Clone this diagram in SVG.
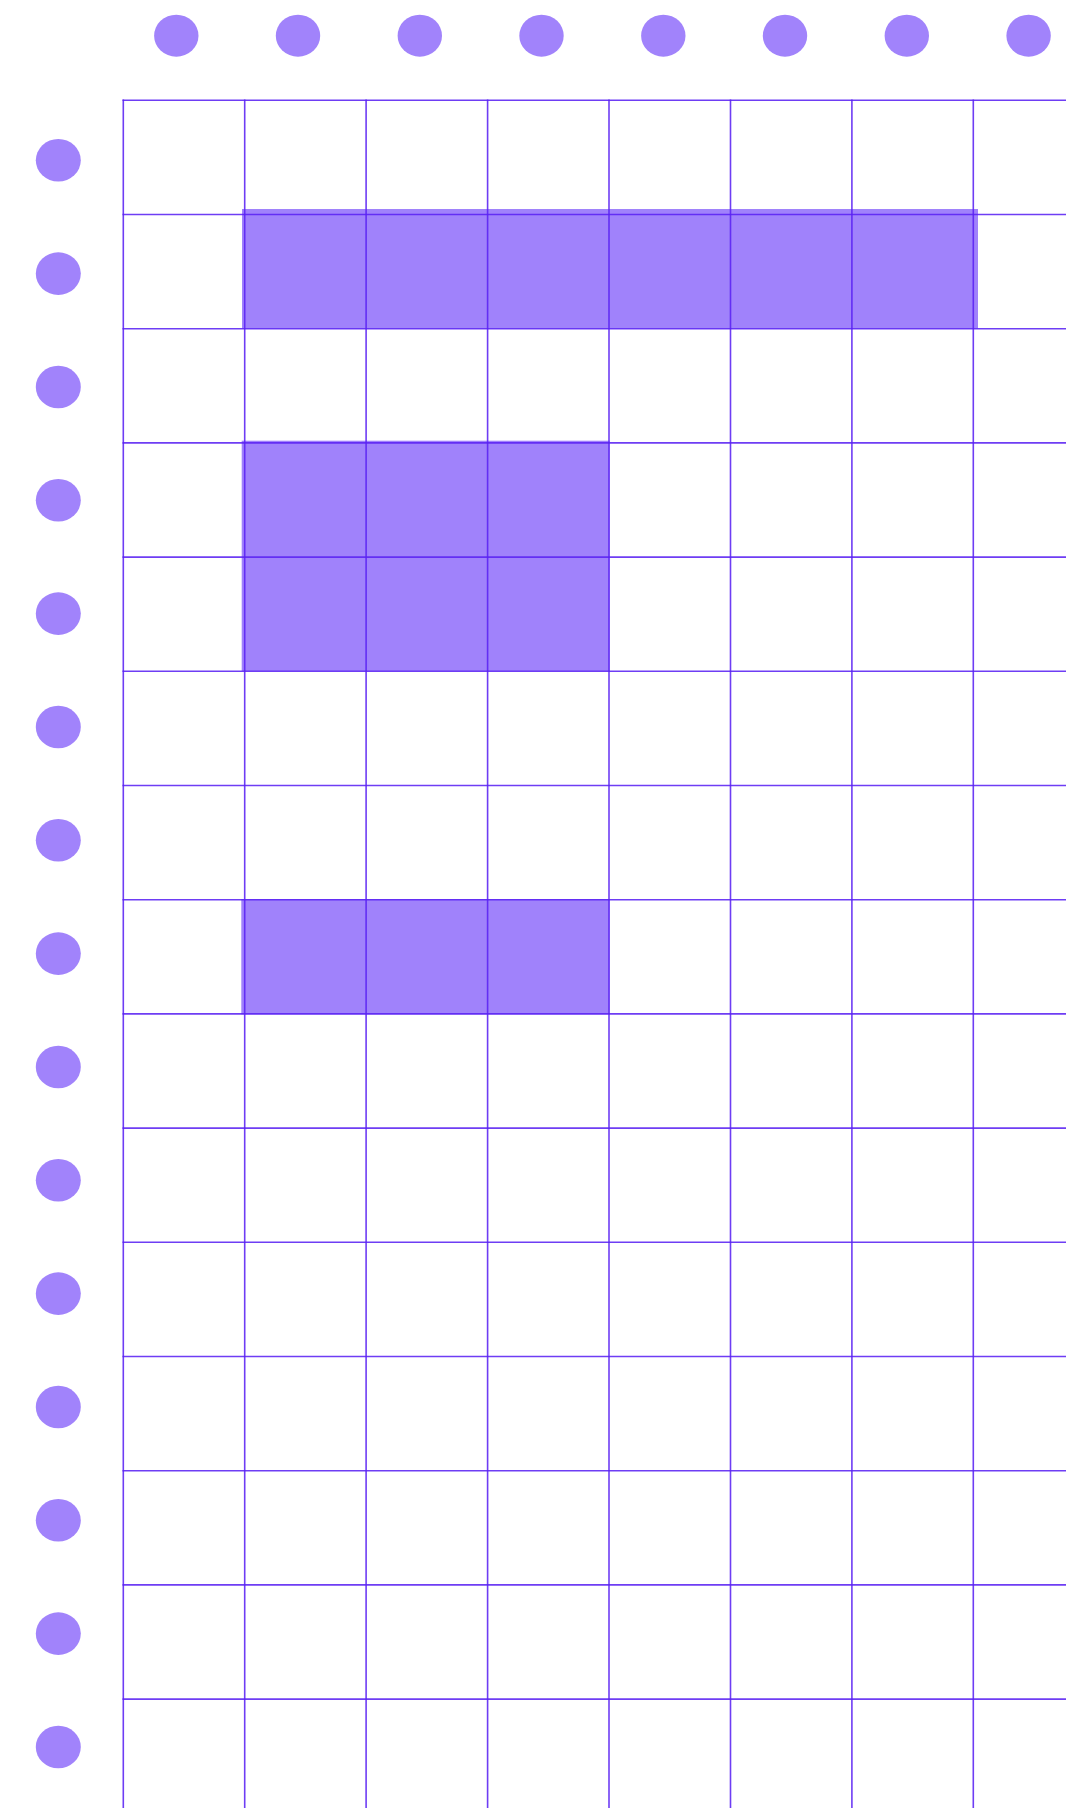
<svg xmlns="http://www.w3.org/2000/svg" width="1066" height="1808" viewBox="0 0 1066 1808">
<style>
.dot{fill:#a183fb}
.fill{fill:#a082fb}
.grid line{stroke:#5a22f2;stroke-width:1.6;stroke-opacity:0.88}
</style>
<rect width="1066" height="1808" fill="#ffffff"/>
<g id="top-dots">
<ellipse class="dot" cx="176.3" cy="35.7" rx="22.2" ry="21"/>
<ellipse class="dot" cx="298" cy="35.7" rx="22.2" ry="21"/>
<ellipse class="dot" cx="419.8" cy="35.7" rx="22.2" ry="21"/>
<ellipse class="dot" cx="541.5" cy="35.7" rx="22.2" ry="21"/>
<ellipse class="dot" cx="663.3" cy="35.7" rx="22.2" ry="21"/>
<ellipse class="dot" cx="785" cy="35.7" rx="22.2" ry="21"/>
<ellipse class="dot" cx="906.8" cy="35.7" rx="22.2" ry="21"/>
<ellipse class="dot" cx="1028.6" cy="35.7" rx="22.2" ry="21"/>
</g>
<g id="left-dots">
<ellipse class="dot" cx="58.3" cy="160.3" rx="22.5" ry="21.3"/>
<ellipse class="dot" cx="58.3" cy="273.6" rx="22.5" ry="21.3"/>
<ellipse class="dot" cx="58.3" cy="387" rx="22.5" ry="21.3"/>
<ellipse class="dot" cx="58.3" cy="500.3" rx="22.5" ry="21.3"/>
<ellipse class="dot" cx="58.3" cy="613.6" rx="22.5" ry="21.3"/>
<ellipse class="dot" cx="58.3" cy="727" rx="22.5" ry="21.3"/>
<ellipse class="dot" cx="58.3" cy="840.3" rx="22.5" ry="21.3"/>
<ellipse class="dot" cx="58.3" cy="953.6" rx="22.5" ry="21.3"/>
<ellipse class="dot" cx="58.3" cy="1067" rx="22.5" ry="21.3"/>
<ellipse class="dot" cx="58.3" cy="1180.3" rx="22.5" ry="21.3"/>
<ellipse class="dot" cx="58.3" cy="1293.6" rx="22.5" ry="21.3"/>
<ellipse class="dot" cx="58.3" cy="1407" rx="22.5" ry="21.3"/>
<ellipse class="dot" cx="58.3" cy="1520.3" rx="22.5" ry="21.3"/>
<ellipse class="dot" cx="58.3" cy="1633.6" rx="22.5" ry="21.3"/>
<ellipse class="dot" cx="58.3" cy="1747" rx="22.5" ry="21.3"/>
</g>
<g id="filled-blocks">
<rect class="fill" x="242" y="209" width="736" height="119.5"/>
<rect class="fill" x="241.7" y="440.7" width="368" height="230.3"/>
<rect class="fill" x="241.3" y="899" width="368.4" height="115.3"/>
</g>
<g id="grid" class="grid">
<line x1="123.3" y1="99.5" x2="123.3" y2="1808"/>
<line x1="244.7" y1="99.5" x2="244.7" y2="1808"/>
<line x1="366.1" y1="99.5" x2="366.1" y2="1808"/>
<line x1="487.6" y1="99.5" x2="487.6" y2="1808"/>
<line x1="609" y1="99.5" x2="609" y2="1808"/>
<line x1="730.5" y1="99.5" x2="730.5" y2="1808"/>
<line x1="851.9" y1="99.5" x2="851.9" y2="1808"/>
<line x1="973.3" y1="99.5" x2="973.3" y2="1808"/>
<line x1="122.5" y1="100.3" x2="1066" y2="100.3"/>
<line x1="122.5" y1="214.5" x2="1066" y2="214.5"/>
<line x1="122.5" y1="328.7" x2="1066" y2="328.7"/>
<line x1="122.5" y1="442.9" x2="1066" y2="442.9"/>
<line x1="122.5" y1="557.1" x2="1066" y2="557.1"/>
<line x1="122.5" y1="671.3" x2="1066" y2="671.3"/>
<line x1="122.5" y1="785.5" x2="1066" y2="785.5"/>
<line x1="122.5" y1="899.7" x2="1066" y2="899.7"/>
<line x1="122.5" y1="1013.9" x2="1066" y2="1013.9"/>
<line x1="122.5" y1="1128.1" x2="1066" y2="1128.1"/>
<line x1="122.5" y1="1242.3" x2="1066" y2="1242.3"/>
<line x1="122.5" y1="1356.5" x2="1066" y2="1356.5"/>
<line x1="122.5" y1="1470.7" x2="1066" y2="1470.7"/>
<line x1="122.5" y1="1584.9" x2="1066" y2="1584.9"/>
<line x1="122.5" y1="1699.1" x2="1066" y2="1699.1"/>
</g>
</svg>
